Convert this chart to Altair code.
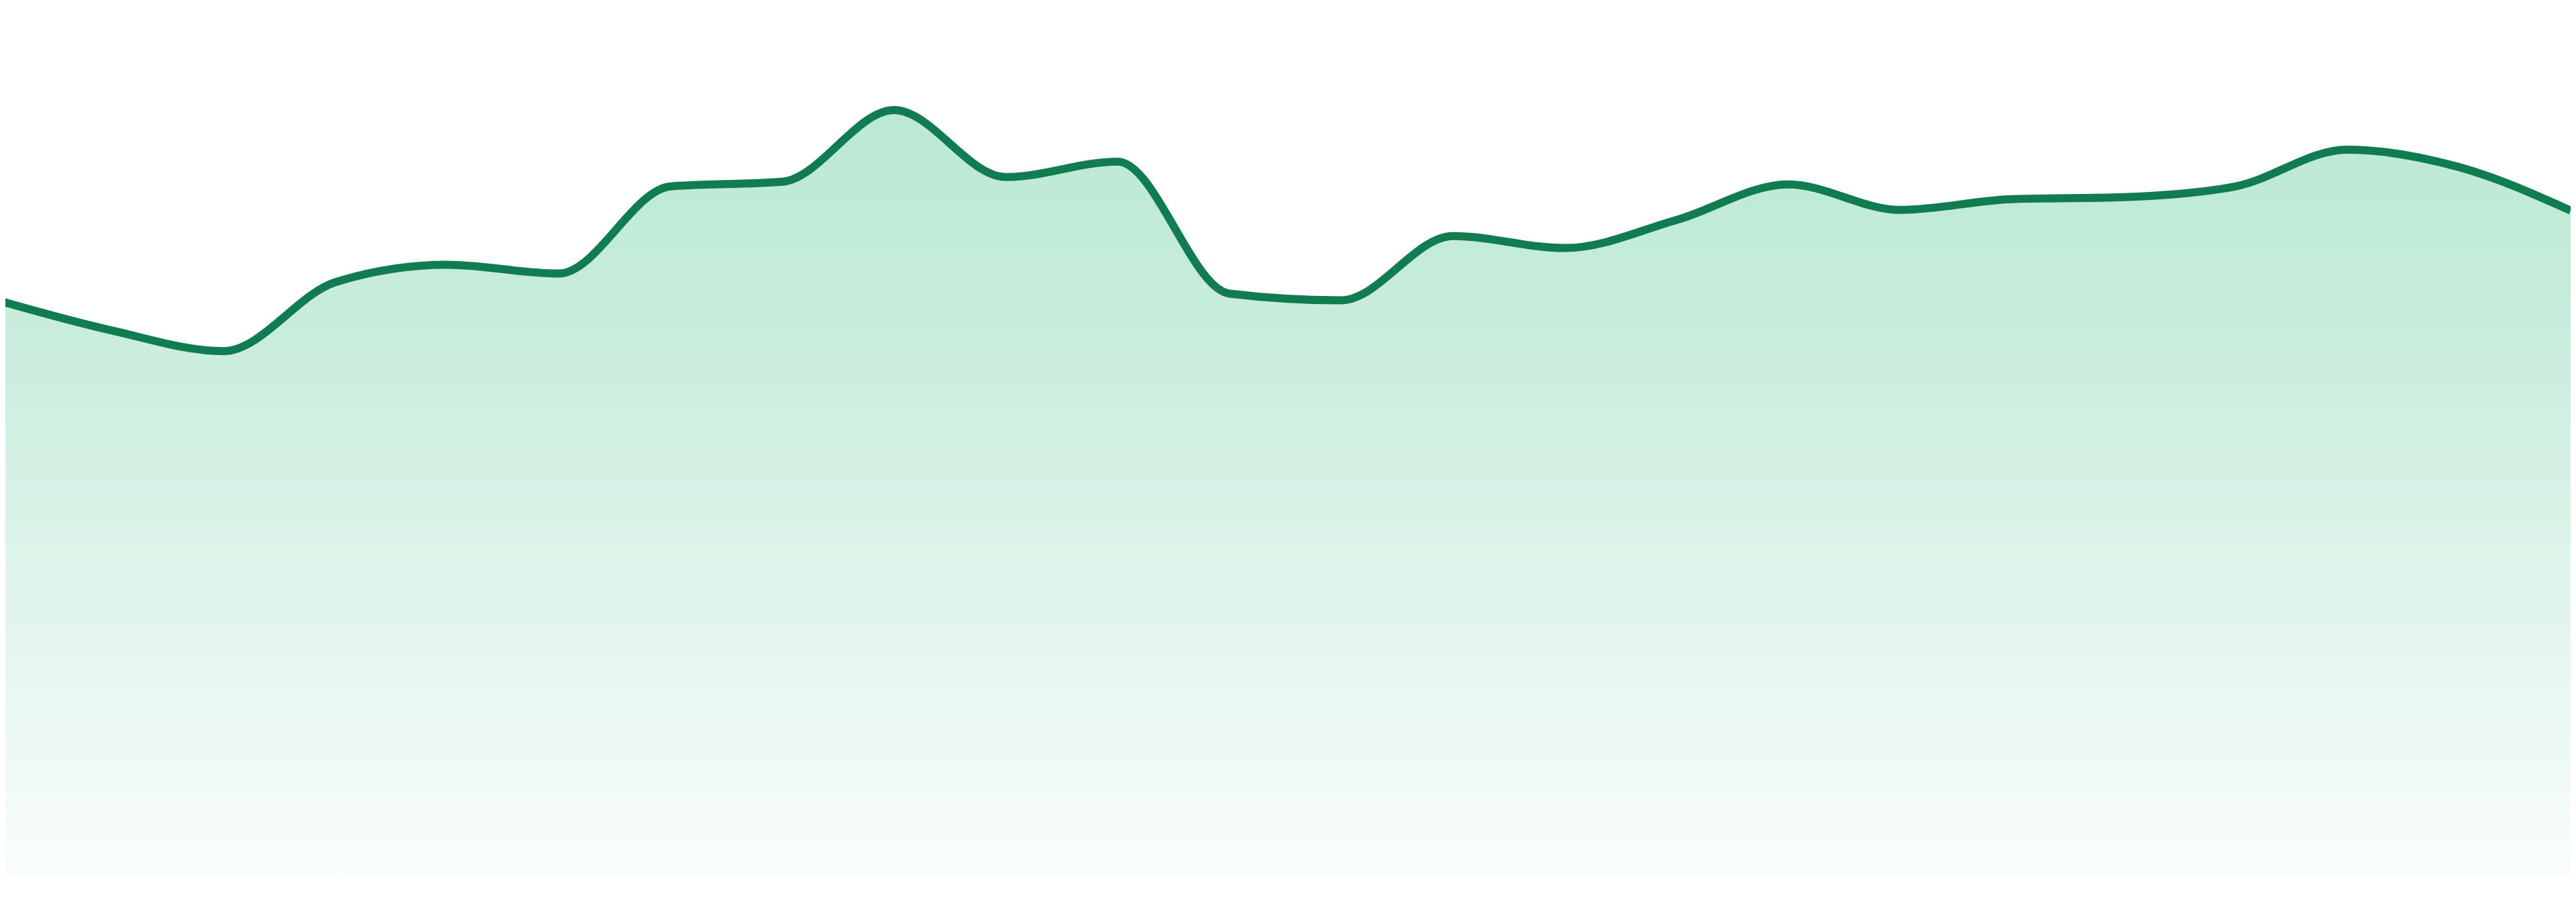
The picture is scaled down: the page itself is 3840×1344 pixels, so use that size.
import altair as alt
import pandas as pd

idx = list(range(24))
values = [857, 813, 782, 885, 911, 898, 1028, 1035, 1142, 1042, 1065, 868,
          858, 954, 936, 978, 1031, 993, 1009, 1012, 1028, 1083, 1057, 992]

df = pd.DataFrame({"i": idx, "v": values})

x_enc = alt.X("i:Q", axis=None, scale=alt.Scale(domain=[0.048, 23], nice=False, zero=False))
y_enc = alt.Y("v:Q", axis=None, scale=alt.Scale(domain=[0, 1297], nice=False))

gradient = alt.Gradient(
    gradient="linear",
    stops=[
        alt.GradientStop(color="#bae9d3", offset=0),
        alt.GradientStop(color="#c6ecdb", offset=0.25),
        alt.GradientStop(color="#f9fdfb", offset=1),
    ],
    x1=0, x2=0, y1=0, y2=1,
)

area = alt.Chart(df).mark_area(interpolate="monotone", color=gradient, clip=True).encode(
    x=x_enc, y=y_enc
)
line = alt.Chart(df).mark_line(interpolate="monotone", color="#117c52", strokeWidth=12, clip=True).encode(
    x=x_enc, y=y_enc
)

chart = (
    alt.layer(area, line)
    .properties(width=3832, height=1297, padding=0, autosize=alt.AutoSizeParams(type="none"),
                view=alt.ViewBackground(strokeWidth=0, strokeOpacity=0, fill="white"))
    .configure_view(strokeWidth=0, strokeOpacity=0)
    .configure(background="white")
)

spec = chart.to_dict()
spec.setdefault("config", {}).setdefault("view", {})["stroke"] = None
spec["view"]["stroke"] = None
chart = alt.LayerChart.from_dict(spec, validate=False)

chart.save("out.html", embed_options={"renderer": "svg", "actions": False})
